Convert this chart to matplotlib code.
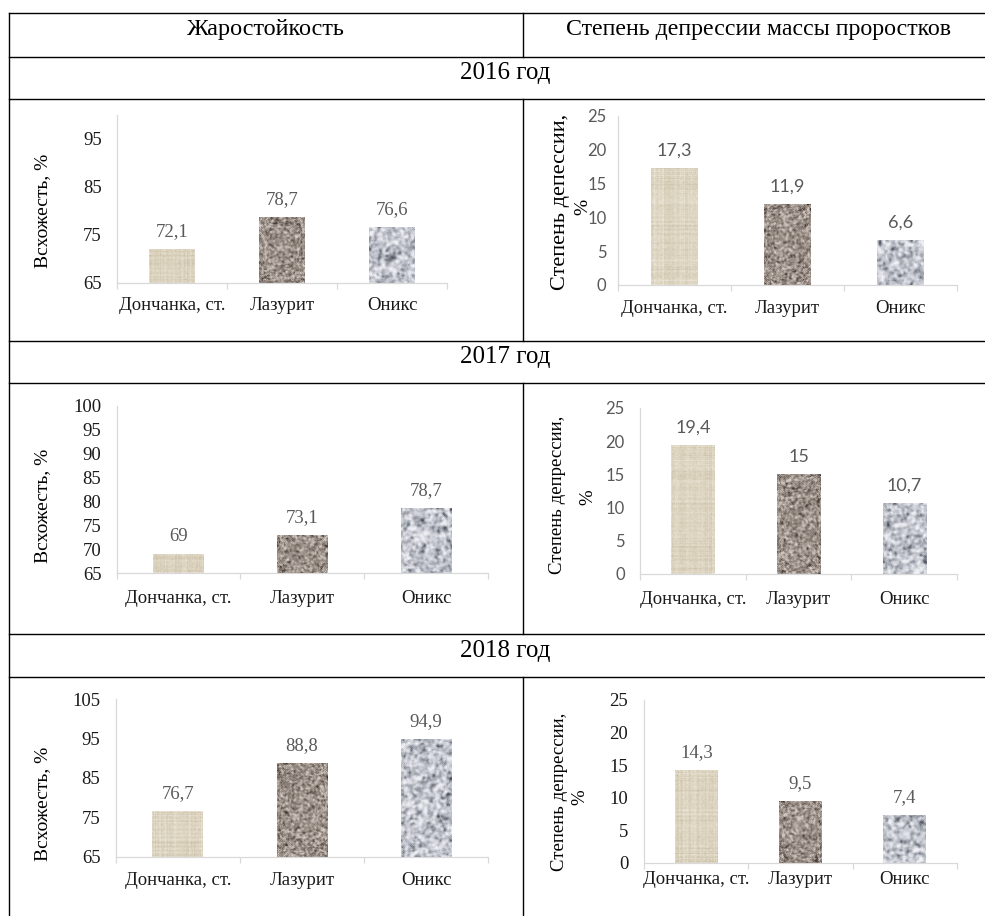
import numpy as np
import matplotlib
matplotlib.use("Agg")
import matplotlib.pyplot as plt

# данные
sorts = ["Дончанка, ст.", "Лазурит", "Оникс"]
years = ["2016 год", "2017 год", "2018 год"]
vshozh_2016 = [72.1, 78.7, 76.6]
vshozh_2017 = [69, 73.1, 78.7]
vshozh_2018 = [76.7, 88.8, 94.9]
depr_2016 = [17.3, 11.9, 6.6]
depr_2017 = [19.4, 15, 10.7]
depr_2018 = [14.3, 9.5, 7.4]

W, H = 985, 916
SERIF = "Liberation Serif"
SANS = "Lato"

fig = plt.figure(figsize=(W / 100, H / 100), dpi=100)

# фон-таблица в пикселях
tab = fig.add_axes([0, 0, 1, 1])
tab.set_xlim(0, W)
tab.set_ylim(H, 0)
tab.axis("off")

lw = 1.0
for y in [13.3, 56.7, 98.7, 341, 382.7, 634.3, 676.7]:
    tab.plot([9.3, W], [y, y], color="black", lw=lw)
tab.plot([9.3, 9.3], [13.3, H], color="black", lw=lw)
for y0, y1 in [(13.3, 56.7), (98.7, 341), (382.7, 634.3), (676.7, H)]:
    tab.plot([523.3, 523.3], [y0, y1], color="black", lw=lw)

tab.text(266, 30, "Жаростойкость", fontsize=17.5, family=SERIF, ha="center", va="center")
tab.text(759, 30, "Степень депрессии массы проростков", fontsize=17.2, family=SERIF,
         ha="center", va="center")
for yy, txt in zip([73, 357, 651], years):
    tab.text(505, yy, txt, fontsize=18, family=SERIF, ha="center", va="center")


def blur(a, k):
    for _ in range(k):
        a = (a + np.roll(a, 1, 0) + np.roll(a, -1, 0) + np.roll(a, 1, 1) + np.roll(a, -1, 1)) / 5
    return a


def colormap(v, stops, cols):
    img = np.empty(v.shape + (3,))
    for c in range(3):
        img[..., c] = np.interp(v, stops, [col[c] for col in cols])
    return np.clip(img / 255, 0, 1)


rng = np.random.default_rng(7)


def linen(h, w):
    rows = rng.normal(size=h) * 0.6
    cols = rng.normal(size=w) * 0.6
    rows[::4] += 0.8
    cols[::4] += 0.8
    v = 0.5 * rows[:, None] + 0.5 * cols[None, :] + 0.35 * rng.normal(size=(h, w))
    return colormap(v, [-2.0, 0, 2.0], [(192, 181, 158), (219, 210, 189), (240, 235, 222)])


def granite(h, w):
    n = blur(rng.normal(size=(h, w)), 1)
    n = (n - n.mean()) / n.std()
    v = n + 0.45 * rng.normal(size=(h, w))
    return colormap(v, [-2.8, -1.3, 0, 2.0],
                    [(60, 52, 48), (122, 110, 102), (155, 144, 136), (212, 204, 198)])


def onyx(h, w):
    n = blur(rng.normal(size=(h, w)), 3)
    n = (n - n.mean()) / n.std()
    v = n + 0.3 * rng.normal(size=(h, w))
    return colormap(v, [-3.0, -1.5, 0, 2.0],
                    [(75, 79, 90), (150, 154, 163), (195, 198, 206), (238, 240, 244)])


textures = [linen, granite, onyx]

panels = [
    dict(vals=vshozh_2016, box=(117, 115, 447, 282.7), ylim=(65, 100), step=10,
         tfont=SERIF, tcol="#1a1a1a", tsize=13.5, lsize=13.5, cpad=10, ypad=11),
    dict(vals=depr_2016, box=(617.7, 115.7, 956.7, 285), ylim=(0, 25), step=5,
         tfont=SANS, tcol="#595959", tsize=12, lsize=13, cpad=11, ypad=8),
    dict(vals=vshozh_2017, box=(116.7, 406, 488, 573.3), ylim=(65, 100), step=5,
         tfont=SERIF, tcol="#1a1a1a", tsize=13.5, lsize=13.5, cpad=12, ypad=11),
    dict(vals=depr_2017, box=(640, 408, 957, 574), ylim=(0, 25), step=5,
         tfont=SANS, tcol="#595959", tsize=12, lsize=13, cpad=12, ypad=11),
    dict(vals=vshozh_2018, box=(115.7, 699.3, 488.3, 856.7), ylim=(65, 105), step=10,
         tfont=SERIF, tcol="#1a1a1a", tsize=13.5, lsize=13.5, cpad=11, ypad=11),
    dict(vals=depr_2018, box=(644.3, 700, 956.7, 862.7), ylim=(0, 25), step=5,
         tfont=SERIF, tcol="#1a1a1a", tsize=13.5, lsize=13.5, cpad=6, ypad=11.5),
]

x = np.arange(len(sorts))
for p in panels:
    l, t, r, b = p["box"]
    ax = fig.add_axes([l / W, 1 - b / H, (r - l) / W, (b - t) / H])
    ax.patch.set_visible(False)
    ax.set_xlim(-0.5, 2.5)
    ax.set_ylim(*p["ylim"])
    bars = ax.bar(x, p["vals"], width=0.41, facecolor="none", edgecolor="none")
    y0 = p["ylim"][0]
    for bar, make in zip(bars, textures):
        bx0, bx1 = bar.get_x(), bar.get_x() + bar.get_width()
        top = bar.get_height()
        (px0, py0), (px1, py1) = ax.transData.transform([(bx0, y0), (bx1, top)])
        hpx, wpx = max(int(py1 - py0), 2), max(int(px1 - px0), 2)
        im = ax.imshow(make(hpx, wpx), extent=(bx0, bx1, y0, top), origin="lower",
                       aspect="auto", interpolation="bilinear", zorder=2)
        im.set_clip_path(bar)
    ax.set_xlim(-0.5, 2.5)
    ax.set_ylim(*p["ylim"])

    for xi, v in zip(x, p["vals"]):
        ax.annotate(f"{v:g}".replace(".", ","), (xi, v), xytext=(0, 12.5),
                    textcoords="offset points", ha="center", va="center",
                    fontsize=p["lsize"], family=p["tfont"], color="#595959")

    for side in ["top", "right"]:
        ax.spines[side].set_visible(False)
    for side in ["left", "bottom"]:
        ax.spines[side].set_color("#d9d9d9")
        ax.spines[side].set_linewidth(0.9)

    ax.set_yticks(np.arange(p["ylim"][0], p["ylim"][1] + 0.01, p["step"]))
    if p["ylim"][1] == 100 and p["step"] == 10:
        ax.set_yticks([65, 75, 85, 95])
    ax.tick_params(axis="y", length=0, pad=p["ypad"], labelsize=p["tsize"],
                   labelcolor=p["tcol"])
    for lab in ax.get_yticklabels():
        lab.set_family(p["tfont"])

    ax.set_xticks(x)
    ax.set_xticklabels(sorts, family=SERIF, fontsize=13.5, color="#1a1a1a")
    ax.tick_params(axis="x", which="major", length=0, pad=p["cpad"])
    ax.set_xticks([-0.5, 0.5, 1.5, 2.5], minor=True)
    ax.tick_params(axis="x", which="minor", length=4, color="#d9d9d9", width=0.9)

# подписи осей
for yy in [211, 506, 804]:
    tab.text(43, yy, "Всхожесть, %", rotation=90, fontsize=14, family=SERIF,
             ha="center", va="center")
tab.text(561, 202, "Степень депессии,", rotation=90, fontsize=16, family=SERIF,
         ha="center", va="center")
tab.text(583, 207, "%", rotation=90, fontsize=14, family=SERIF, ha="center", va="center")
tab.text(558, 495, "Степень депрессии,", rotation=90, fontsize=13.5, family=SERIF,
         ha="center", va="center")
tab.text(588, 497, "%", rotation=90, fontsize=13.5, family=SERIF, ha="center", va="center")
tab.text(560, 792, "Степень депрессии,", rotation=90, fontsize=13.5, family=SERIF,
         ha="center", va="center")
tab.text(580, 797, "%", rotation=90, fontsize=13.5, family=SERIF, ha="center", va="center")

fig.savefig("out.png", dpi=100)
